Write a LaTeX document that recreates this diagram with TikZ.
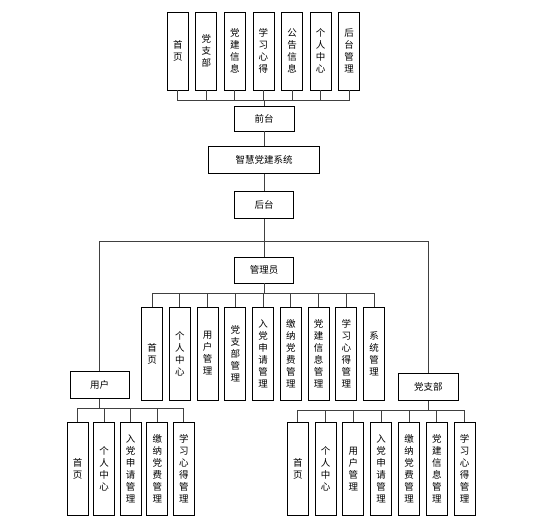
\documentclass[tikz,border=0pt]{standalone}
\usepackage{fontspec}
\newfontfamily\cjk{Noto Sans CJK SC}
\begin{document}
\begin{tikzpicture}[x=1pt,y=-1pt,
  box/.style={draw=black,line width=0.9pt,fill=white,inner sep=0pt,font=\cjk\fontsize{9.5}{12}\selectfont,align=center},
  hbox/.style={box,minimum width=59pt,minimum height=26pt},
  vbox/.style={box,minimum width=21pt,minimum height=#1},
  link/.style={draw=black!75,line width=0.9pt}]
\useasboundingbox (0,0) rectangle (554,528);
% top row
\foreach \t [count=\i from 0] in {首\\页,党\\支\\部,党\\建\\信\\息,学\\习\\心\\得,公\\告\\信\\息,个\\人\\中\\心,后\\台\\管\\理}
  \node[vbox=78pt] (t\i) at ({177.8+28.55*\i},51) {\t};
\node[hbox,minimum width=60pt,minimum height=25pt] (qt) at (264,118.5) {前台};
\node[hbox,minimum width=111pt,minimum height=27pt] (sys) at (264,160) {智慧党建系统};
\node[hbox,minimum height=27pt] (ht) at (264,205) {后台};
\node[hbox] (gly) at (264,270) {管理员};
\node[hbox,minimum height=27pt] (yh) at (99.7,385) {用户};
\node[hbox,minimum width=60pt,minimum height=27pt] (dzb) at (428.3,387.3) {党支部};
% admin row
\foreach \t [count=\i from 0] in {首\\页,个\\人\\中\\心,用\\户\\管\\理,党\\支\\部\\管\\理,入\\党\\申\\请\\管\\理,缴\\纳\\党\\费\\管\\理,党\\建\\信\\息\\管\\理,学\\习\\心\\得\\管\\理,系\\统\\管\\理}
  \node[vbox=93pt] (a\i) at ({152+27.75*\i},353.5) {\t};
% user row
\foreach \t [count=\i from 0] in {首\\页,个\\人\\中\\心,入\\党\\申\\请\\管\\理,缴\\纳\\党\\费\\管\\理,学\\习\\心\\得\\管\\理}
  \node[vbox=93pt] (u\i) at ({77.5+26.6*\i},469) {\t};
% branch row
\foreach \t [count=\i from 0] in {首\\页,个\\人\\中\\心,用\\户\\管\\理,入\\党\\申\\请\\管\\理,缴\\纳\\党\\费\\管\\理,党\\建\\信\\息\\管\\理,学\\习\\心\\得\\管\\理}
  \node[vbox=93pt] (b\i) at ({297.8+27.8*\i},469) {\t};
% connectors
\coordinate (bq) at (264,100);
\foreach \i in {0,...,6} \draw[link] (t\i.south) |- (bq);
\draw[link] (bq) -- (qt.north);
\draw[link] (qt.south) -- (sys.north);
\draw[link] (sys.south) -- (ht.north);
\coordinate (fork) at (264,241.7);
\draw[link] (ht.south) -- (gly.north);
\draw[link] (yh.north) |- (fork) -| (dzb.north);
\coordinate (ba) at (264,293.3);
\foreach \i in {0,...,8} \draw[link] (a\i.north) |- (ba);
\draw[link] (gly.south) -- (ba);
\coordinate (bu) at (99.7,408.3);
\foreach \i in {0,...,4} \draw[link] (u\i.north) |- (bu);
\draw[link] (yh.south) -- (bu);
\coordinate (bb) at (428.3,410.7);
\foreach \i in {0,...,6} \draw[link] (b\i.north) |- (bb);
\draw[link] (dzb.south) -- (bb);
\end{tikzpicture}
\end{document}
